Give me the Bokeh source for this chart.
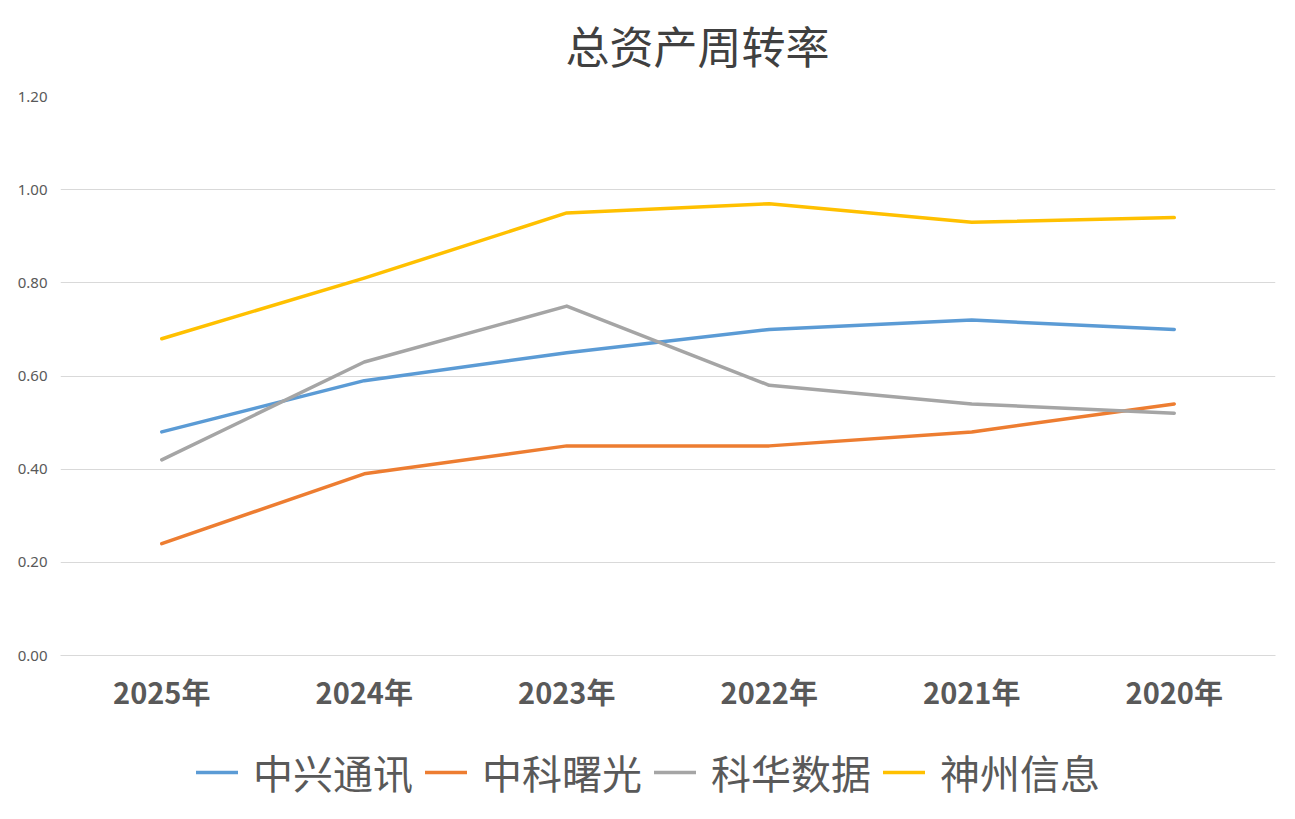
from bokeh.plotting import figure
from bokeh.layouts import column
from bokeh.models import FixedTicker, Legend, LegendItem, NumeralTickFormatter, FactorRange, Range1d, Label
from bokeh.embed import file_html
from bokeh.resources import INLINE

title_text = "总资产周转率"
years = ["2025年", "2024年", "2023年", "2022年", "2021年", "2020年"]
zte = [0.48, 0.59, 0.65, 0.70, 0.72, 0.70]
sugon = [0.24, 0.39, 0.45, 0.45, 0.48, 0.54]
kehua = [0.42, 0.63, 0.75, 0.58, 0.54, 0.52]
dcits = [0.68, 0.81, 0.95, 0.97, 0.93, 0.94]
series_names = ["中兴通讯", "中科曙光", "科华数据", "神州信息"]
colors = ["#5B9BD5", "#ED7D31", "#A5A5A5", "#FFC000"]
y_ticks = [0.0, 0.2, 0.4, 0.6, 0.8, 1.0, 1.2]
series = [zte, sugon, kehua, dcits]


def strip(height):
    f = figure(width=1279, height=height, x_range=Range1d(0, 1), y_range=Range1d(0, 1),
               output_backend="svg", toolbar_location=None,
               x_axis_location=None, y_axis_location=None,
               min_border_left=0, min_border_right=0, min_border_top=0, min_border_bottom=0)
    f.outline_line_color = None
    f.xgrid.grid_line_color = None
    f.ygrid.grid_line_color = None
    return f


# title strip
top = strip(84)
top.add_layout(Label(x=637, y=40, x_units="screen", y_units="screen", text=title_text,
                     text_font="Noto Sans CJK SC", text_font_size="44px", text_color="#404040",
                     text_align="center", text_baseline="middle"))

# main chart
p = figure(frame_width=1215, frame_height=559, x_range=FactorRange(*years), y_range=Range1d(0, 1.2),
           output_backend="svg", toolbar_location=None,
           min_border_left=60, min_border_right=4, min_border_top=12, min_border_bottom=71)
p.outline_line_color = None
p.xgrid.grid_line_color = None
p.ygrid.grid_line_color = "#D9D9D9"
p.ygrid.grid_line_width = 1

p.yaxis.ticker = FixedTicker(ticks=y_ticks)
p.yaxis.formatter = NumeralTickFormatter(format="0.00")
p.yaxis.axis_line_color = None
p.yaxis.major_tick_line_color = None
p.yaxis.minor_tick_line_color = None
p.yaxis.major_tick_out = 0
p.yaxis.major_label_text_font = "Noto Sans"
p.yaxis.major_label_text_font_size = "15px"
p.yaxis.major_label_text_color = "#595959"
p.yaxis.major_label_standoff = 13

p.xaxis.axis_line_color = "#D9D9D9"
p.xaxis.major_tick_line_color = None
p.xaxis.minor_tick_line_color = None
p.xaxis.major_tick_out = 0
p.xaxis.major_label_text_font = "Noto Sans CJK SC"
p.xaxis.major_label_text_font_style = "bold"
p.xaxis.major_label_text_font_size = "29px"
p.xaxis.major_label_text_color = "#595959"
p.xaxis.major_label_standoff = 14

for vals, c in zip(series, colors):
    p.line(years, vals, line_color=c, line_width=3.5, line_join="round", line_cap="round")

# legend strip below the chart (its series lie outside its visible range)
lg = figure(width=1279, height=88, x_range=FactorRange(*years), y_range=Range1d(5, 6),
            output_backend="svg", toolbar_location=None,
            x_axis_location=None, y_axis_location=None,
            min_border_left=0, min_border_right=0, min_border_top=0, min_border_bottom=0)
lg.outline_line_color = None
lg.xgrid.grid_line_color = None
lg.ygrid.grid_line_color = None

items = []
for name, vals, c in zip(series_names, series, colors):
    r = lg.line(years, vals, line_color=c, line_width=3.5, line_cap="round")
    items.append(LegendItem(label=name, renderers=[r]))

legend = Legend(items=items, orientation="horizontal", location=(136, 13),
                label_text_font="Noto Sans CJK SC", label_text_font_size="40px",
                label_text_color="#595959", glyph_width=42, label_standoff=15,
                spacing=12, border_line_color=None, background_fill_alpha=0,
                margin=0, padding=4)
lg.add_layout(legend, "center")

layout = column(top, p, lg, spacing=0)
open("out.html", "w").write(file_html(layout, INLINE))
